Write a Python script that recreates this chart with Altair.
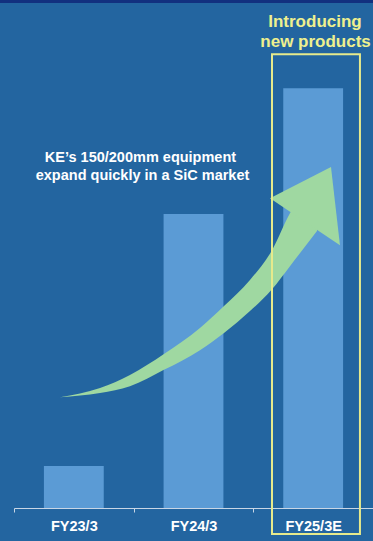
import altair as alt
import pandas as pd

# ---- data ----
categories = ["FY23/3", "FY24/3", "FY25/3E"]
values = [10, 70, 100]

# arrow body (x in category units, y in value units)
arrow_x = [0.384, 0.719, 0.969, 1.253, 1.554, 1.755, 1.972, 2.156, 2.306, 2.532]
arrow_upper = [26.4, 28.6, 31.7, 36.7, 42.9, 48.1, 54.3, 61.4, 70.2, 78.1]
arrow_lower = [26.4, 27.4, 29.0, 32.9, 37.6, 41.7, 46.9, 52.1, 57.6, 66.0]
# arrow head
head_x = [2.139, 2.649, 2.724]
head_upper = [73.8, 81.2, 62.6]
head_lower = [73.8, 64.0, 62.6]

# highlight box around the forecast bar
box_x = [2.156, 2.891]
box_y = [-6.2, 108.1]

# top frame strip
strip_x = [-0.117, 3.0]
strip_y = [120.3, 121.0]

note_lines = ["Introducing", "new products"]
note_x = [2.515, 2.52]
note_y = [114.5, 109.8]

callout_lines = ["KE\u2019s 150/200mm equipment", "expand quickly in a SiC market"]
callout_x = [1.057, 1.074]
callout_y = [82.4, 78.1]

FONT = "Liberation Sans"
BG = "#2365a0"
BAR = "#5b9bd5"
GREEN = "#9fd8a1"
YELLOW = "#e6ea8c"

YDOM = [0, 121]
XDOM = [0, 3]

ys = alt.Scale(domain=YDOM)
xs = alt.Scale(domain=XDOM)

bars_df = pd.DataFrame({"cat": categories, "val": values})
bars = alt.Chart(bars_df).mark_bar(color=BAR, width=alt.RelativeBandSize(0.5)).encode(
    x=alt.X("cat:N", sort=categories, title=None,
            scale=alt.Scale(paddingInner=0, paddingOuter=0),
            axis=alt.Axis(labelAngle=0, tickBand="extent", domainColor="#c8d6e6",
                          tickColor="#c8d6e6", tickSize=4, tickWidth=1, domainWidth=1,
                          labelColor="white", labelFont=FONT, labelFontWeight="bold",
                          labelFontSize=14.5, labelPadding=7, grid=False)),
    y=alt.Y("val:Q", scale=ys, axis=None),
)

body_df = pd.DataFrame({"x": arrow_x, "yu": arrow_upper, "yl": arrow_lower})
body = alt.Chart(body_df).mark_area(color=GREEN, interpolate="monotone", opacity=1).encode(
    x=alt.X("x:Q", scale=xs, axis=None),
    y=alt.Y("yu:Q", scale=ys, axis=None),
    y2="yl:Q",
)

head_df = pd.DataFrame({"x": head_x, "yu": head_upper, "yl": head_lower})
head = alt.Chart(head_df).mark_area(color=GREEN, interpolate="linear", opacity=1).encode(
    x=alt.X("x:Q", scale=xs, axis=None),
    y=alt.Y("yu:Q", scale=ys, axis=None),
    y2="yl:Q",
)

box_df = pd.DataFrame({"x1": [box_x[0]], "x2": [box_x[1]], "y1": [box_y[0]], "y2": [box_y[1]]})
box = alt.Chart(box_df).mark_rect(fillOpacity=0, stroke=YELLOW, strokeWidth=2).encode(
    x=alt.X("x1:Q", scale=xs, axis=None), x2="x2:Q",
    y=alt.Y("y1:Q", scale=ys, axis=None), y2="y2:Q",
)

strip_df = pd.DataFrame({"x1": [strip_x[0]], "x2": [strip_x[1]], "y1": [strip_y[0]], "y2": [strip_y[1]]})
strip = alt.Chart(strip_df).mark_rect(color="#12307f").encode(
    x=alt.X("x1:Q", scale=xs, axis=None), x2="x2:Q",
    y=alt.Y("y1:Q", scale=ys, axis=None), y2="y2:Q",
)

note_df = pd.DataFrame({"t": note_lines, "x": note_x, "y": note_y})
note = alt.Chart(note_df).mark_text(font=FONT, fontWeight="bold", fontSize=17, color="#eef08e",
                                    align="center", baseline="alphabetic").encode(
    x=alt.X("x:Q", scale=xs, axis=None),
    y=alt.Y("y:Q", scale=ys, axis=None),
    text="t:N",
)

callout_df = pd.DataFrame({"t": callout_lines, "x": callout_x, "y": callout_y})
callout = alt.Chart(callout_df).mark_text(font=FONT, fontWeight="bold", fontSize=14.5, color="white",
                                          align="center", baseline="alphabetic").encode(
    x=alt.X("x:Q", scale=xs, axis=None),
    y=alt.Y("y:Q", scale=ys, axis=None),
    text="t:N",
)

chart = alt.layer(bars, body, head, box, strip, note, callout).resolve_scale(
    x="independent"
).properties(
    width=359, height=508,
    autosize=alt.AutoSizeParams(type="none"),
    padding={"left": 14, "top": 0, "right": 0, "bottom": 33},
    background=BG,
).configure_view(stroke=None)

chart.save("out.html", embed_options={"renderer": "svg", "actions": False})
